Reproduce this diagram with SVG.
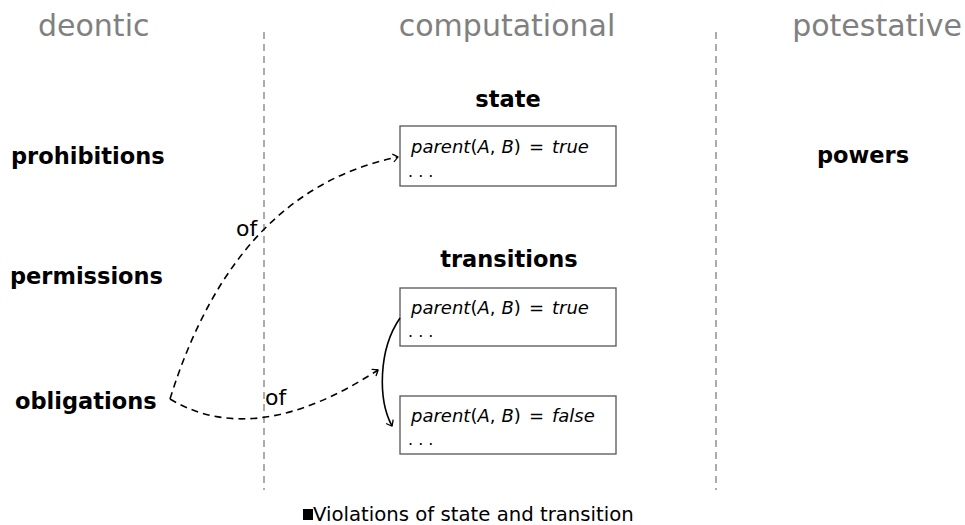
<svg xmlns="http://www.w3.org/2000/svg" width="965" height="525" viewBox="0 0 965 525">
<defs>
<marker id="arr" viewBox="-6 -5 8 10" refX="0" refY="0" markerWidth="8" markerHeight="10" markerUnits="userSpaceOnUse" orient="auto">
<path d="M-5,-4 Q-1,-1 0,0 Q-1,1 -5,4" fill="none" stroke="#000" stroke-width="1.3"/>
</marker>
<style>
text{font-family:"DejaVu Sans","Liberation Sans",sans-serif}
.col{font-size:30px;fill:#808080}
.lab{font-size:22.5px;font-weight:bold;fill:#000}
.box{fill:#fff;stroke:#555;stroke-width:1.3}
.math{font-size:18px;fill:#000}
.it{font-style:italic}
.dots{font-size:16px;fill:#000}
.sep{stroke:#808080;stroke-width:1.3;stroke-dasharray:7,5}
.dash{fill:none;stroke:#000;stroke-width:1.6;stroke-dasharray:7,5}
.of{font-size:22px;fill:#000}
</style>
</defs>
<g id="headers">
<text class="col" x="38" y="36">deontic</text>
<text class="col" x="507" y="36" text-anchor="middle">computational</text>
<text class="col" x="877" y="36" text-anchor="middle">potestative</text>
<line class="sep" x1="264" y1="32" x2="264" y2="490"/>
<line class="sep" x1="716" y1="32" x2="716" y2="490"/>
</g>
<g id="prohibitions"><text class="lab" x="11" y="164">prohibitions</text></g>
<g id="permissions"><text class="lab" x="10" y="284">permissions</text></g>
<g id="obligations"><text class="lab" x="15" y="409">obligations</text></g>
<g id="powers"><text class="lab" x="817" y="163">powers</text></g>
<g id="state">
<text class="lab" x="508" y="107" text-anchor="middle">state</text>
<rect class="box" x="400" y="126" width="216" height="60"/>
<text class="math" x="411" y="153"><tspan class="it">parent</tspan>(<tspan class="it">A</tspan>,<tspan class="it" dx="6">B</tspan>)<tspan dx="8">=</tspan><tspan class="it" dx="8">true</tspan></text>
<text class="dots" x="408" y="177">. . .</text>
</g>
<g id="transitions">
<text class="lab" x="509" y="267" text-anchor="middle">transitions</text>
</g>
<g id="t1">
<rect class="box" x="400" y="288" width="216" height="58"/>
<text class="math" x="411" y="314"><tspan class="it">parent</tspan>(<tspan class="it">A</tspan>,<tspan class="it" dx="6">B</tspan>)<tspan dx="8">=</tspan><tspan class="it" dx="8">true</tspan></text>
<text class="dots" x="408" y="337">. . .</text>
</g>
<g id="t2">
<rect class="box" x="400" y="396" width="216" height="58"/>
<text class="math" x="411" y="422"><tspan class="it">parent</tspan>(<tspan class="it">A</tspan>,<tspan class="it" dx="6">B</tspan>)<tspan dx="8">=</tspan><tspan class="it" dx="8">false</tspan></text>
<text class="dots" x="408" y="445">. . .</text>
</g>
<g id="connectors">
<path class="dash" d="M170,399 Q235,190 398,157" marker-end="url(#arr)"/>
<path class="dash" d="M170,399 Q255,450 378,370" marker-end="url(#arr)"/>
<path d="M400,318 C378,350 378,400 392,426" fill="none" stroke="#000" stroke-width="1.6" marker-end="url(#arr)"/>
<text class="of" x="236" y="236">of</text>
<text class="of" x="265" y="405">of</text>
</g>
<g id="caption">
<rect x="303" y="509" width="10" height="11" fill="#000"/>
<text x="313" y="521" font-size="19.7" fill="#000">Violations of state and transition</text>
</g>
</svg>
